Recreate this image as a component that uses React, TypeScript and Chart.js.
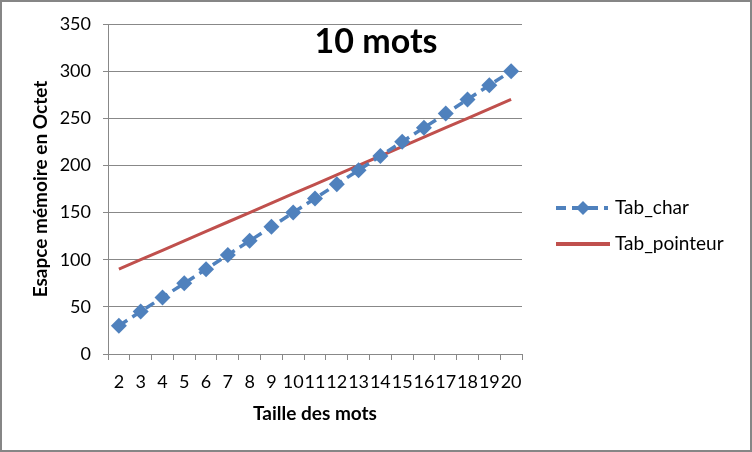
import React, { useEffect, useRef } from "react";
import { Chart, registerables } from "chart.js";

Chart.register(...registerables);

const sizes = ["2", "3", "4", "5", "6", "7", "8", "9", "10", "11", "12", "13", "14", "15", "16", "17", "18", "19", "20"];
const tabChar = [30, 45, 60, 75, 90, 105, 120, 135, 150, 165, 180, 195, 210, 225, 240, 255, 270, 285, 300];
const tabPointeur = [90, 100, 110, 120, 130, 140, 150, 160, 170, 180, 190, 200, 210, 220, 230, 240, 250, 260, 270];
const seriesNames = ["Tab_char", "Tab_pointeur"];
const chartTitle = "10 mots";
const xTitle = "Taille des mots";
const yTitle = "Esapce mémoire en Octet";

const BLUE = "#4F81BD";
const RED = "#C0504D";
const GRID = "#888888";
const FONT = "Lato, 'Open Sans', sans-serif";

const decorPlugin = {
  id: "decor",
  beforeDraw(chart: any) {
    const ctx = chart.ctx;
    ctx.save();
    ctx.fillStyle = "#ffffff";
    ctx.fillRect(0, 0, chart.width, chart.height);
    ctx.restore();
  },
  afterDraw(chart: any) {
    const ctx = chart.ctx;
    const w = chart.width;
    const h = chart.height;
    ctx.save();
    // outer border
    ctx.strokeStyle = "#868686";
    ctx.lineWidth = 2;
    ctx.strokeRect(1, 1, w - 2, h - 2);
    // big title
    ctx.fillStyle = "#000";
    ctx.font = `bold 34px ${FONT}`;
    ctx.textAlign = "center";
    ctx.textBaseline = "middle";
    ctx.fillText(chartTitle, 376, 42);
    // legend
    const lx0 = 556;
    const y1 = 208;
    const y2 = 244;
    ctx.strokeStyle = BLUE;
    ctx.lineWidth = 4;
    ctx.setLineDash([10, 6]);
    ctx.beginPath();
    ctx.moveTo(lx0, y1);
    ctx.lineTo(lx0 + 52, y1);
    ctx.stroke();
    ctx.setLineDash([]);
    ctx.fillStyle = BLUE;
    ctx.beginPath();
    const cx = lx0 + 27;
    ctx.moveTo(cx, y1 - 7);
    ctx.lineTo(cx + 7, y1);
    ctx.lineTo(cx, y1 + 7);
    ctx.lineTo(cx - 7, y1);
    ctx.closePath();
    ctx.fill();
    ctx.strokeStyle = RED;
    ctx.lineWidth = 4;
    ctx.beginPath();
    ctx.moveTo(lx0, y2);
    ctx.lineTo(lx0 + 54, y2);
    ctx.stroke();
    ctx.fillStyle = "#000";
    ctx.font = `19px ${FONT}`;
    ctx.textAlign = "left";
    ctx.fillText(seriesNames[0], 615, y1);
    ctx.fillText(seriesNames[1], 615, y2);
    ctx.restore();
  },
};

export default function App() {
  const ref = useRef<HTMLCanvasElement>(null);
  useEffect(() => {
    document.body.style.margin = "0";
    const chart = new Chart(ref.current as HTMLCanvasElement, {
      type: "line",
      data: {
        labels: sizes,
        datasets: [
          {
            label: seriesNames[0],
            data: tabChar,
            borderColor: BLUE,
            backgroundColor: BLUE,
            borderWidth: 3.5,
            borderDash: [10, 6],
            pointStyle: "rectRot",
            pointRadius: 8,
            pointBorderWidth: 0,
            pointBackgroundColor: BLUE,
            tension: 0,
          },
          {
            label: seriesNames[1],
            data: tabPointeur,
            borderColor: RED,
            backgroundColor: RED,
            borderWidth: 3,
            pointRadius: 0,
            tension: 0,
          },
        ],
      },
      options: {
        animation: false,
        responsive: false,
        devicePixelRatio: 1,
        layout: { padding: { left: 0, right: 230, top: 24, bottom: 0 } },
        plugins: {
          legend: { display: false },
          tooltip: { enabled: false },
          title: { display: false },
        },
        scales: {
          x: {
            offset: true,
            grid: {
              offset: true,
              drawOnChartArea: false,
              drawTicks: true,
              tickLength: 6,
              color: GRID,
            },
            border: { color: GRID, width: 1 },
            ticks: {
              color: "#000",
              font: { family: FONT, size: 18 },
              padding: 11,
              maxRotation: 0,
              autoSkip: false,
            },
            title: {
              display: true,
              text: xTitle,
              color: "#000",
              font: { family: FONT, size: 19, weight: "bold" },
              padding: { top: 0, bottom: 27 },
            },
            afterFit: (s: any) => {
              s.height = 98;
            },
          },
          y: {
            min: 0,
            max: 350,
            grid: {
              color: GRID,
              tickLength: 5,
              drawTicks: true,
            },
            border: { color: GRID, width: 1 },
            ticks: {
              stepSize: 50,
              color: "#000",
              font: { family: FONT, size: 18 },
              padding: 12,
            },
            title: {
              display: true,
              text: yTitle,
              color: "#000",
              font: { family: FONT, size: 19, weight: "bold" },
              padding: { top: 29, bottom: 0 },
            },
            afterFit: (s: any) => {
              s.width = 108;
            },
          },
        },
      },
      plugins: [decorPlugin],
    });
    return () => chart.destroy();
  }, []);
  return (
    <div style={{ width: 752, height: 452 }}>
      <canvas ref={ref} width={752} height={452} style={{ display: "block" }} />
    </div>
  );
}
